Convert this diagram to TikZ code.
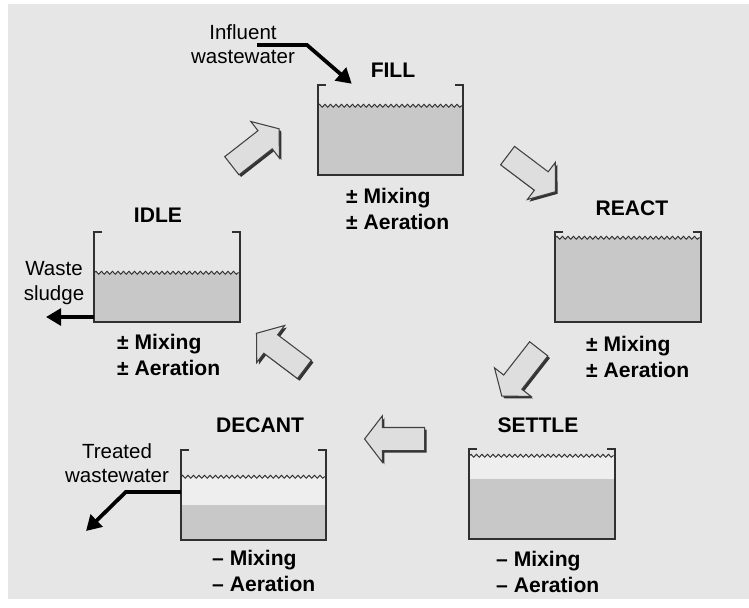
\documentclass[tikz,border=0pt]{standalone}
\usepackage{fontspec}
\setmainfont{Liberation Sans}
\usetikzlibrary{positioning, arrows.meta, calc, shapes.arrows, shadows, decorations.pathmorphing}

\definecolor{panelgray}{HTML}{E6E6E6}
\definecolor{liquid}{HTML}{C8C8C8}
\definecolor{clearwater}{HTML}{EEEEEE}
\definecolor{wallgray}{HTML}{303030}

\begin{document}
\begin{tikzpicture}[
    x=0.03cm, y=-0.03cm,
    tank/.style={minimum width=4.35cm, minimum height=2.7cm, inner sep=0pt},
    wall/.style={wallgray, line width=1.4pt},
    wave/.style={wallgray, line width=0.8pt, decorate,
        decoration={snake, segment length=0.165cm, amplitude=0.045cm}},
    phase/.style={font=\fontsize{18}{22}\selectfont\bfseries, inner sep=0pt},
    note/.style={font=\fontsize{17.5}{21}\selectfont, align=center, inner sep=0pt},
    cond/.style={font=\fontsize{18}{22}\selectfont\bfseries, align=left, inner sep=0pt, anchor=west},
    flow/.style={-{Triangle[length=4.5mm, width=5mm]}, line width=3.2pt, black},
    cyclearrow/.style={single arrow, draw=black!75, fill=black!13, line width=0.9pt,
        minimum height=1.8cm, inner xsep=0pt, inner ysep=0.33cm,
        single arrow head extend=0.35cm, single arrow tip angle=105,
        general shadow={fill=black!80, shadow xshift=1.8pt, shadow yshift=-1.8pt}}
]

    % Panel
    \useasboundingbox (0,0) rectangle (749,607);
    \fill[white] (0,0) rectangle (749,607);
    \fill[panelgray] (8,4) rectangle (749,599);

    % Tanks: name / centre / water level / sludge level (from the top)
    \foreach \name/\cx/\cy/\lvl/\sludge in {fill/390.5/130/21/21, react/628/277/6/6,
        settle/542/494/7/30, decant/253.5/495/27/55, idle/167/277/41/41} {
        \node[tank] (\name) at (\cx,\cy) {};
        \fill[clearwater] ($(\name.north west)+(0,\lvl)$) rectangle (\name.south east);
        \fill[liquid] ($(\name.north west)+(0,\sludge)$) rectangle (\name.south east);
        \draw[wave] ($(\name.north west)+(0,\lvl)$) -- ($(\name.north east)+(0,\lvl)$);
        \draw[wall] ($(\name.north west)+(8,0)$) -- (\name.north west) -- (\name.south west)
            -- (\name.south east) -- (\name.north east) -- ++(-8,0);
    }

    % Phase names
    \node[phase] (filllbl) at (393,70) {FILL};
    \node[phase] (reactlbl) at (632,208) {REACT};
    \node[phase] (settlelbl) at (538,425) {SETTLE};
    \node[phase] (decantlbl) at (260,425) {DECANT};
    \node[phase] (idlelbl) at (158,215) {IDLE};

    % Mixing and aeration
    \node[cond] (fillcond) at (346,209) {± Mixing\\± Aeration};
    \node[cond] (reactcond) at (586,357) {± Mixing\\± Aeration};
    \node[cond] (idlecond) at (117,355) {± Mixing\\± Aeration};
    \node[cond] (decantcond) at (212,571) {– Mixing\\– Aeration};
    \node[cond] (settlecond) at (496,572) {– Mixing\\– Aeration};

    % Cycle arrows
    \node[cyclearrow, rotate=38] (toFill) at (252,150) {};
    \node[cyclearrow, rotate=-37] (toReact) at (528,171) {};
    \node[cyclearrow, rotate=232] (toSettle) at (523,369) {};
    \node[cyclearrow, rotate=180] (toDecant) at (399,439) {};
    \node[cyclearrow, rotate=143] (toIdle) at (284,354) {};

    % Influent
    \node[note] (influent) at (243,44) {Influent\\wastewater};
    \coordinate (inflin) at (257,45);
    \draw[flow] (inflin) -- ++(50,0) -- ($(fill.north west)+(34,-1)$);

    % Waste sludge
    \node[note] (sludge) at (54,283) {Waste\\sludge};
    \coordinate (sludgeout) at (46,317);
    \draw[flow] (idle.south west |- sludgeout) -- (sludgeout);

    % Treated effluent
    \node[note] (treated) at (117,463) {Treated\\wastewater};
    \coordinate (effout) at (86,531);
    \draw[flow] ($(decant.west)+(0,-3)$) -- ++(-55,0) -- (effout);

\end{tikzpicture}
\end{document}
